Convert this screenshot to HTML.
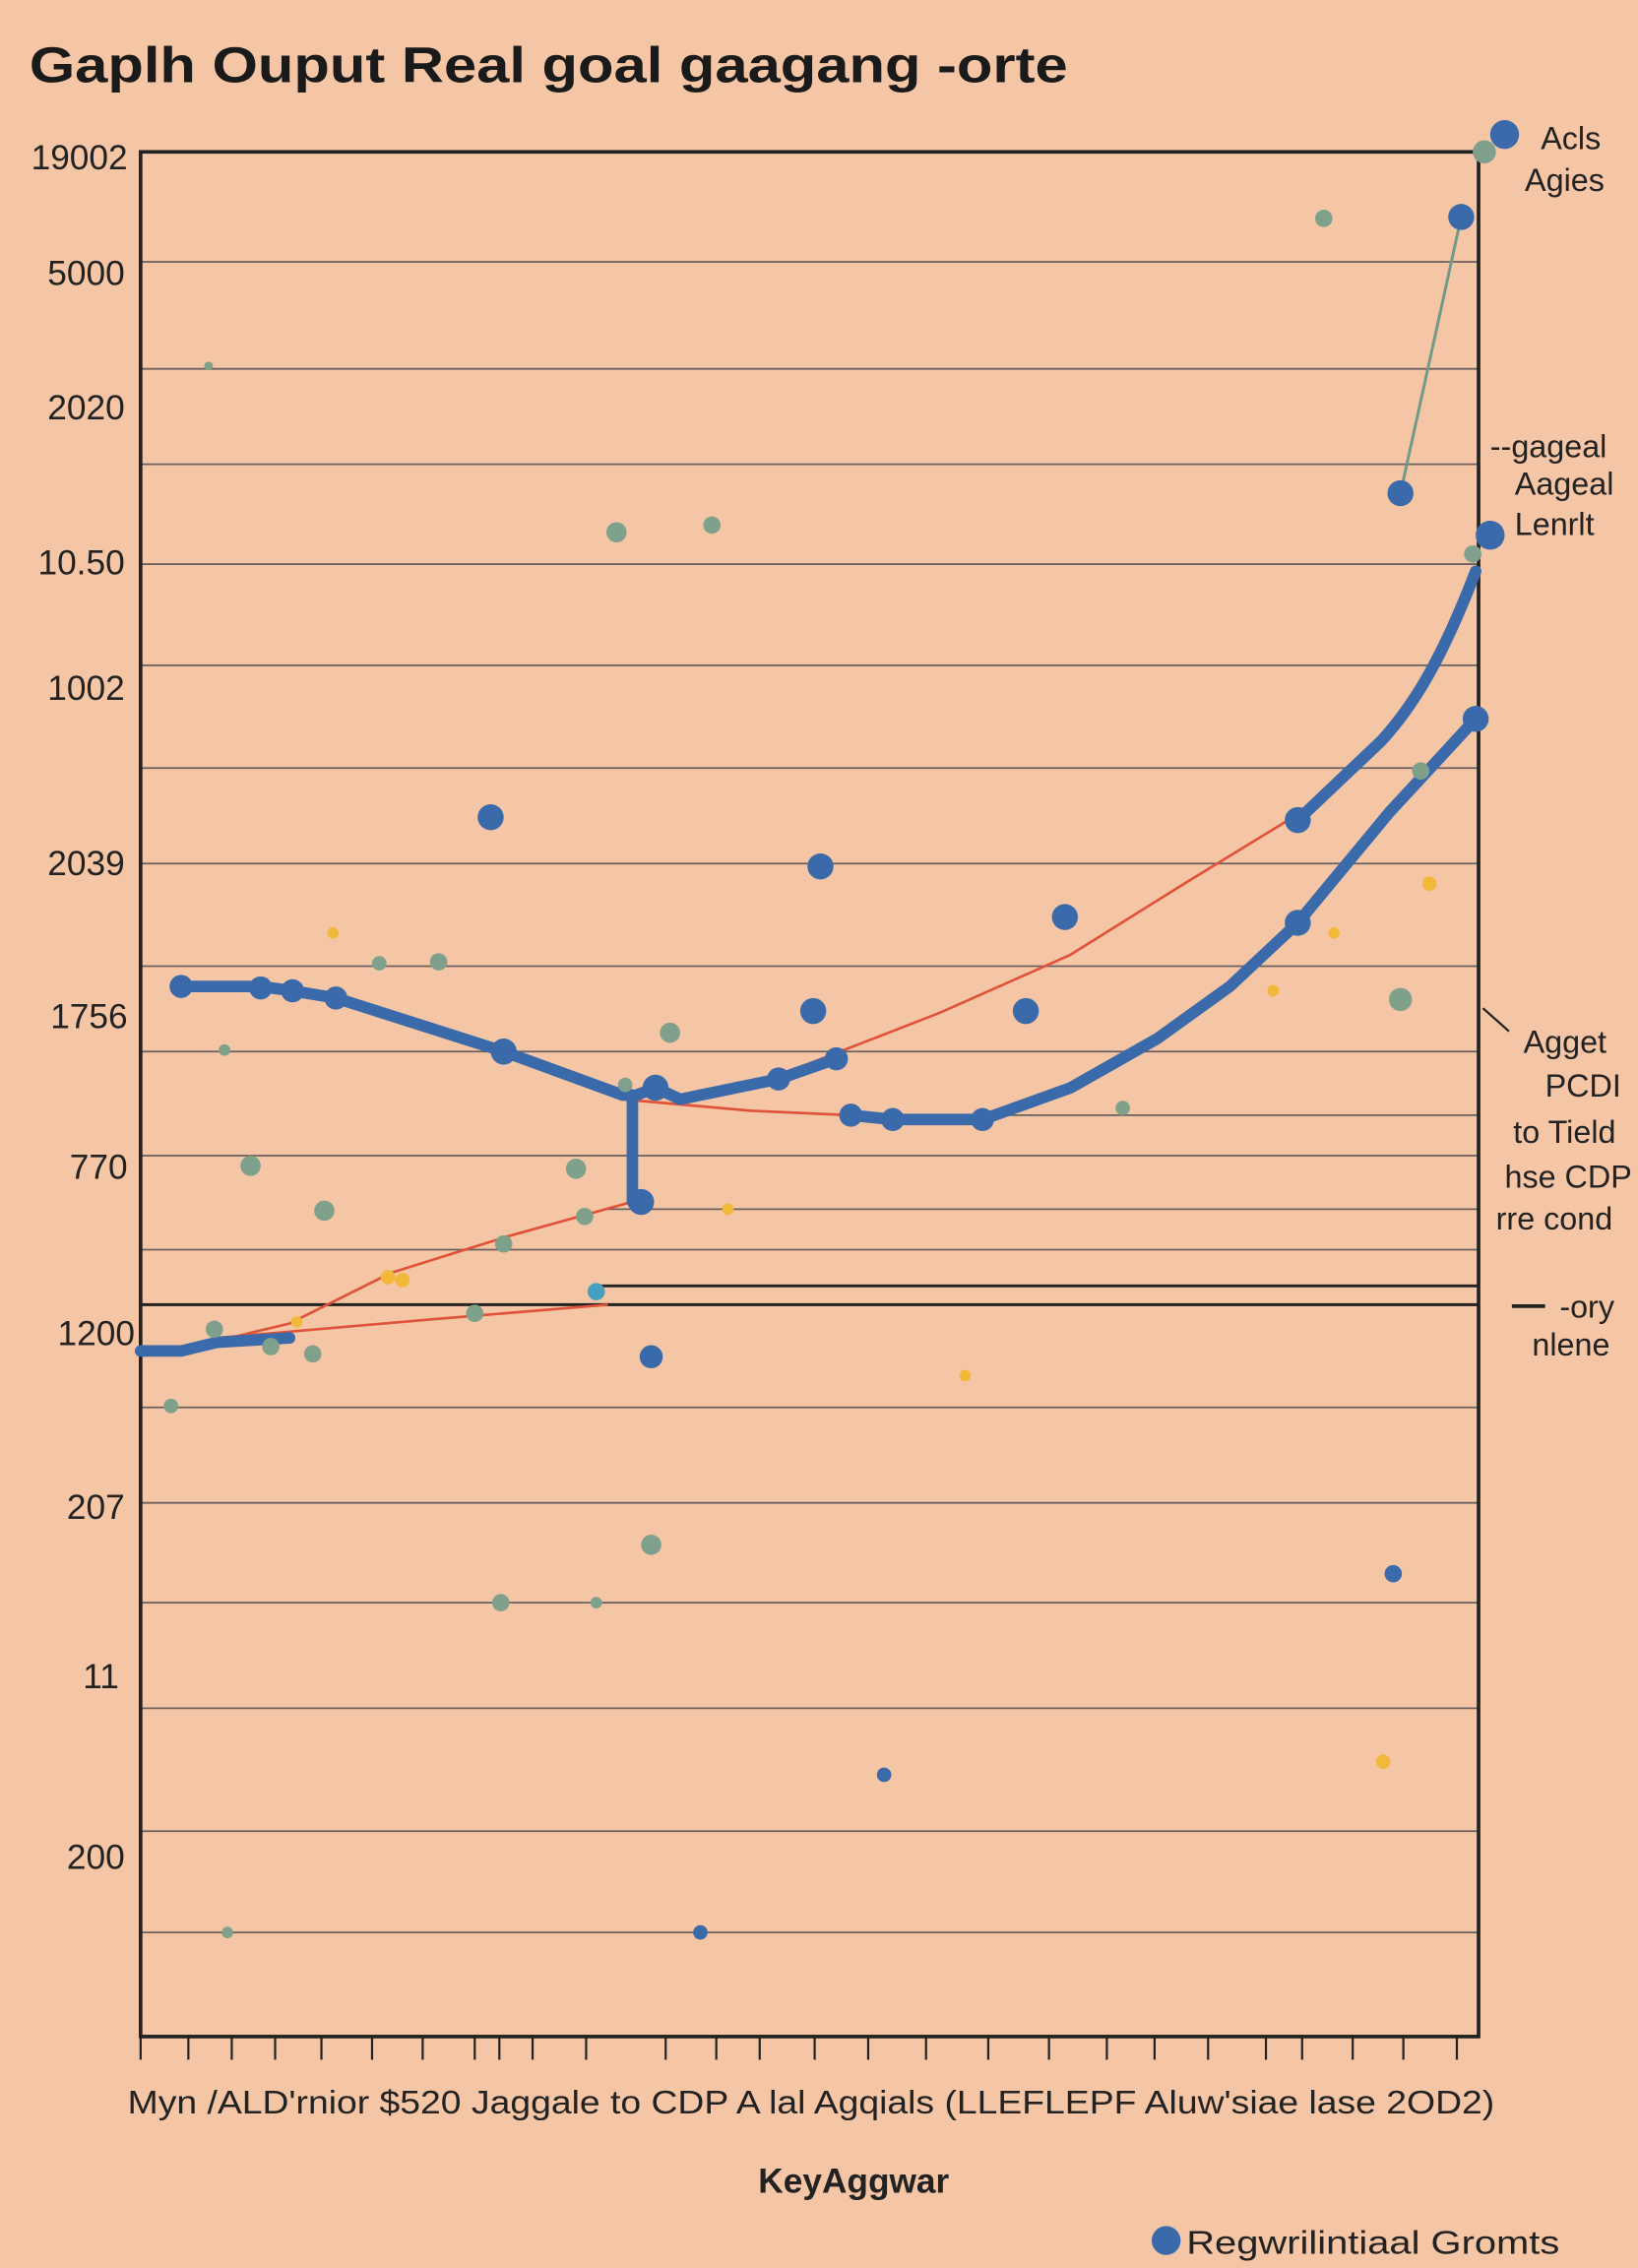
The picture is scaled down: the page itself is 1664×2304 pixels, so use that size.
<!DOCTYPE html>
<html><head><meta charset="utf-8"><style>html,body{margin:0;padding:0;background:#f5c6a5}svg{display:block}</style></head><body>
<svg width="1664" height="2304" viewBox="0 0 1132 1568" xmlns="http://www.w3.org/2000/svg" font-family="Liberation Sans, sans-serif">
<rect width="1132" height="1568" fill="#f5c6a5"/>
<text x="20" y="57" font-size="35" font-weight="bold" fill="#1a1a1a" textLength="718" lengthAdjust="spacingAndGlyphs">Gaplh Ouput Real goal gaagang -orte</text>
<g stroke="#6b6060" stroke-width="1.2">
<line x1="97" y1="181" x2="1022" y2="181"/><line x1="97" y1="255" x2="1022" y2="255"/><line x1="97" y1="321" x2="1022" y2="321"/><line x1="97" y1="390" x2="1022" y2="390"/><line x1="97" y1="460" x2="1022" y2="460"/><line x1="97" y1="531" x2="1022" y2="531"/><line x1="97" y1="597" x2="1022" y2="597"/><line x1="97" y1="668" x2="1022" y2="668"/><line x1="97" y1="727" x2="1022" y2="727"/><line x1="97" y1="799" x2="1022" y2="799"/><line x1="97" y1="864" x2="1022" y2="864"/><line x1="97" y1="973" x2="1022" y2="973"/><line x1="97" y1="1039" x2="1022" y2="1039"/><line x1="97" y1="1108" x2="1022" y2="1108"/><line x1="97" y1="1181" x2="1022" y2="1181"/><line x1="97" y1="1266" x2="1022" y2="1266"/><line x1="97" y1="1336" x2="1022" y2="1336"/>
<line x1="588" y1="771" x2="1022" y2="771"/><line x1="420" y1="836" x2="1022" y2="836"/>
</g>
<g stroke="#222" stroke-width="2"><line x1="410" y1="889" x2="1022" y2="889"/><line x1="97" y1="902" x2="1022" y2="902"/></g>
<rect x="97" y="105" width="925" height="1303" fill="none" stroke="#222" stroke-width="2.5"/>
<g stroke="#222" stroke-width="1.5">
<line x1="97" y1="1408" x2="97" y2="1424"/><line x1="130" y1="1408" x2="130" y2="1424"/><line x1="160" y1="1408" x2="160" y2="1424"/><line x1="190" y1="1408" x2="190" y2="1424"/><line x1="222" y1="1408" x2="222" y2="1424"/><line x1="257" y1="1408" x2="257" y2="1424"/><line x1="292" y1="1408" x2="292" y2="1424"/><line x1="328" y1="1408" x2="328" y2="1424"/><line x1="345" y1="1408" x2="345" y2="1424"/><line x1="368" y1="1408" x2="368" y2="1424"/><line x1="405" y1="1408" x2="405" y2="1424"/><line x1="460" y1="1408" x2="460" y2="1424"/><line x1="495" y1="1408" x2="495" y2="1424"/><line x1="525" y1="1408" x2="525" y2="1424"/><line x1="563" y1="1408" x2="563" y2="1424"/><line x1="600" y1="1408" x2="600" y2="1424"/><line x1="640" y1="1408" x2="640" y2="1424"/><line x1="683" y1="1408" x2="683" y2="1424"/><line x1="725" y1="1408" x2="725" y2="1424"/><line x1="765" y1="1408" x2="765" y2="1424"/><line x1="798" y1="1408" x2="798" y2="1424"/><line x1="835" y1="1408" x2="835" y2="1424"/><line x1="875" y1="1408" x2="875" y2="1424"/><line x1="900" y1="1408" x2="900" y2="1424"/><line x1="935" y1="1408" x2="935" y2="1424"/><line x1="970" y1="1408" x2="970" y2="1424"/><line x1="1007" y1="1408" x2="1007" y2="1424"/>
</g>
<g font-size="24" fill="#222" text-anchor="end">
<text x="88" y="117">19002</text><text x="86" y="197">5000</text><text x="86" y="290">2020</text><text x="86" y="397">10.50</text><text x="86" y="484">1002</text><text x="86" y="605">2039</text><text x="88" y="711">1756</text><text x="88" y="815">770</text><text x="93" y="930">1200</text><text x="86" y="1050">207</text><text x="82" y="1167">11</text><text x="86" y="1292">200</text>
</g>
<g fill="none" stroke="#e0533a" stroke-width="1.8">
<polyline points="150,927 200,915 270,880 350,855 440,830"/>
<polyline points="430,760 520,768 588,771"/>
<polyline points="560,735 650,700 740,660 820,610 897,563"/>
<polyline points="150,925 300,912 420,902"/>
</g>
<line x1="968" y1="341" x2="1010" y2="150" stroke="#6f9a88" stroke-width="2"/>
<g fill="none" stroke="#3a6aaa" stroke-width="8" stroke-linejoin="round" stroke-linecap="round">
<polyline points="97,934 125,934 150,928 200,925"/>
<polyline points="125,682 180,682 202,685 232,690 348,727 430,757 437,757 437,831 443,831"/>
<polyline points="440,757 453,752 470,760 538,746 578,732"/>
<polyline points="588,771 617,774 679,774 740,752 800,718 850,682 897,638 960,562 1020,497"/>
<path d="M897,567 L955,512 C975,490 995,460 1020,395"/>
</g>
<g fill="#3a6aaa">
<circle cx="1040" cy="93" r="10"/><circle cx="1010" cy="150" r="9"/><circle cx="968" cy="341" r="9"/><circle cx="1030" cy="370" r="10"/><circle cx="339" cy="565" r="9"/><circle cx="567" cy="599" r="9"/><circle cx="736" cy="634" r="9"/><circle cx="562" cy="699" r="9"/><circle cx="709" cy="699" r="9"/><circle cx="450" cy="938" r="8"/><circle cx="963" cy="1088" r="6"/><circle cx="611" cy="1227" r="5"/><circle cx="897" cy="567" r="9"/><circle cx="897" cy="638" r="9"/><circle cx="1020" cy="497" r="9"/>
<circle cx="125" cy="682" r="8"/><circle cx="180" cy="683" r="8"/><circle cx="202" cy="685" r="8"/><circle cx="232" cy="690" r="8"/><circle cx="348" cy="727" r="9"/><circle cx="453" cy="752" r="9"/><circle cx="443" cy="831" r="9"/><circle cx="538" cy="746" r="8"/><circle cx="578" cy="732" r="8"/><circle cx="588" cy="771" r="8"/><circle cx="617" cy="774" r="8"/><circle cx="679" cy="774" r="8"/><circle cx="484" cy="1336" r="5"/>
</g>
<g fill="#7fa08a">
<circle cx="1026" cy="105" r="8"/><circle cx="915" cy="151" r="6"/><circle cx="144" cy="253" r="3"/><circle cx="426" cy="368" r="7"/><circle cx="492" cy="363" r="6"/><circle cx="463" cy="714" r="7"/><circle cx="173" cy="806" r="7"/><circle cx="224" cy="837" r="7"/><circle cx="398" cy="808" r="7"/><circle cx="404" cy="841" r="6"/><circle cx="348" cy="860" r="6"/><circle cx="148" cy="919" r="6"/><circle cx="216" cy="936" r="6"/><circle cx="187" cy="931" r="6"/><circle cx="118" cy="972" r="5"/><circle cx="450" cy="1068" r="7"/><circle cx="346" cy="1108" r="6"/><circle cx="412" cy="1108" r="4"/><circle cx="968" cy="691" r="8"/><circle cx="1018" cy="383" r="6"/><circle cx="982" cy="533" r="6"/><circle cx="262" cy="666" r="5"/><circle cx="303" cy="665" r="6"/><circle cx="155" cy="726" r="4"/><circle cx="328" cy="908" r="6"/><circle cx="432" cy="750" r="5"/><circle cx="776" cy="766" r="5"/><circle cx="157" cy="1336" r="4"/>
</g>
<g fill="#f2b83a">
<circle cx="230" cy="645" r="4"/><circle cx="268" cy="883" r="5"/><circle cx="278" cy="885" r="5"/><circle cx="205" cy="914" r="4"/><circle cx="503" cy="836" r="4"/><circle cx="667" cy="951" r="4"/><circle cx="988" cy="611" r="5"/><circle cx="922" cy="645" r="4"/><circle cx="880" cy="685" r="4"/><circle cx="956" cy="1218" r="5"/>
</g>
<circle cx="412" cy="893" r="6" fill="#45a0c0"/>
<g font-size="22" fill="#222">
<text x="1065" y="103">Acls</text><text x="1054" y="132">Agies</text>
<text x="1030" y="316">--gageal</text><text x="1047" y="342">Aageal</text><text x="1047" y="370">Lenrlt</text>
<text x="1053" y="728">Agget</text><text x="1068" y="758">PCDI</text><text x="1046" y="790">to Tield</text><text x="1040" y="821">hse CDP</text><text x="1034" y="850">rre cond</text>
<text x="1078" y="911">-ory</text><text x="1059" y="937">nlene</text>
</g>
<line x1="1045" y1="903" x2="1068" y2="903" stroke="#222" stroke-width="2.5"/>
<line x1="1025" y1="697" x2="1043" y2="713" stroke="#222" stroke-width="1.5"/>
<text x="88" y="1461" font-size="23" fill="#222" textLength="945" lengthAdjust="spacingAndGlyphs">Myn /ALD'rnior $520 Jaggale to CDP A lal Agqials (LLEFLEPF Aluw'siae lase 2OD2)</text>
<text x="590" y="1516" font-size="24" font-weight="bold" fill="#222" text-anchor="middle">KeyAggwar</text>
<circle cx="806" cy="1549" r="10" fill="#3a6aaa"/>
<text x="820" y="1558" font-size="23" fill="#222" textLength="258" lengthAdjust="spacingAndGlyphs">Regwrilintiaal Gromts</text>
</svg>
</body></html>
